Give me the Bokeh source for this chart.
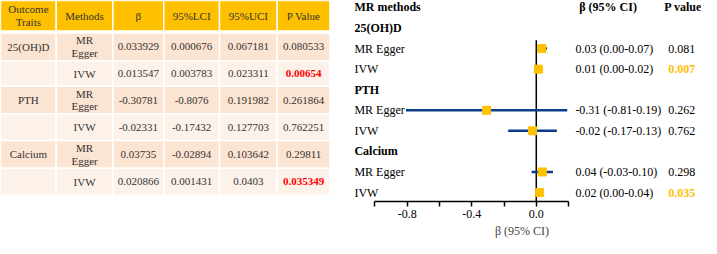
from bokeh.plotting import figure
from bokeh.models import Range1d, FixedTicker, PrintfTickFormatter, Title, ColumnDataSource
from bokeh.layouts import row
from bokeh.embed import file_html
from bokeh.resources import INLINE
from bokeh.core.properties import value

# ---------------- data ----------------
traits = ["25(OH)D", "PTH", "Calcium"]
methods = ["MR Egger", "IVW"]
method_cells = ["MR\nEgger", "IVW"]
beta = [0.033929, 0.013547, -0.30781, -0.02331, 0.03735, 0.020866]
lci = [0.000676, 0.003783, -0.8076, -0.17432, -0.02894, 0.001431]
uci = [0.067181, 0.023311, 0.191982, 0.127703, 0.103642, 0.0403]
pval = [0.080533, 0.00654, 0.261864, 0.762251, 0.29811, 0.035349]
table_headers = ["Outcome\nTraits", "Methods", "β", "95%LCI", "95%UCI", "P Value"]
forest_headers = ["MR methods", "β (95% CI)", "P value"]
forest_ticks = [-0.8, -0.4, 0.0]
forest_minor_ticks = [-1.0, -0.6, -0.2, 0.2]
axis_bounds = (-1.0, 0.2)
axis_title = "β (95% CI)"

# ---------------- layout constants ----------------
FONT = "Liberation Serif"
W, H = 701, 238
REF_W, REF_H = 717, 254
SX = W / REF_W
SY = H / REF_H
TW = 342
FW = W - TW

ORANGE = "#FFC000"
ROW_DARK = "#FCE4D2"
ROW_LIGHT = "#FDF2EA"
TXT = "#333333"
NAVY = "#0B3C8C"

# ---------------- table ----------------
t = figure(width=TW, height=H, x_range=Range1d(0, TW / SX), y_range=Range1d(REF_H, 0),
           output_backend="svg", toolbar_location=None, min_border=0,
           x_axis_location=None, y_axis_location=None)
t.outline_line_color = None
t.xgrid.visible = False
t.ygrid.visible = False
t.background_fill_color = "white"
t.border_fill_color = "white"

col_edges = [0, 57, 115, 167, 224, 283, 337]
head_edges = (0, 38.5)
row_edges = [41, 76, 108.5, 143, 177, 212, 246]
ncol = len(col_edges) - 1
col_centers = [(col_edges[i] + col_edges[i + 1]) / 2 for i in range(ncol)]

t.quad(left=col_edges[:-1], right=col_edges[1:], top=[head_edges[0]] * ncol,
       bottom=[head_edges[1]] * ncol, fill_color=ORANGE, line_color="white", line_width=1.5)
t.text(x=col_centers, y=[sum(head_edges) / 2] * ncol, text=table_headers,
       text_font=value(FONT), text_font_size="11px", text_color=TXT,
       text_align="center", text_baseline="middle", text_line_height=1.05)

nrow = len(beta)
L, R, T, B, C = [], [], [], [], []
tx, ty, tt, tc, ts = [], [], [], [], []
for r in range(nrow):
    gi, mi = divmod(r, len(methods))
    fill = ROW_DARK if mi == 0 else ROW_LIGHT
    yc = (row_edges[r] + row_edges[r + 1]) / 2
    cells = [traits[gi] if mi == 0 else "", method_cells[mi],
             str(beta[r]), str(lci[r]), str(uci[r]), str(pval[r])]
    for c in range(ncol):
        L.append(col_edges[c]); R.append(col_edges[c + 1])
        T.append(row_edges[r]); B.append(row_edges[r + 1]); C.append(fill)
        tx.append(col_centers[c]); ty.append(yc); tt.append(cells[c])
        sig = (c == ncol - 1 and pval[r] < 0.05)
        tc.append("#FF0000" if sig else TXT)
        ts.append("bold" if sig else "normal")

t.quad(left=L, right=R, top=T, bottom=B, fill_color=C, line_color="white", line_width=1.5)
t.text(x=tx, y=ty, text=tt, text_color=tc, text_font_style=ts,
       text_font=value(FONT), text_font_size="11px",
       text_align="center", text_baseline="middle", text_line_height=1.05)

# ---------------- forest ----------------
ZERO_REF, PX_PER_UNIT = 548, 165
AXIS_REF_Y = 217


def ref2x(r):
    return (r - ZERO_REF) / PX_PER_UNIT


x_start_ref = TW / SX
frame_h = round(AXIS_REF_Y * SY)
f = figure(width=FW, height=H, x_range=Range1d(ref2x(x_start_ref), ref2x(REF_W)),
           y_range=Range1d(AXIS_REF_Y, 0), output_backend="svg", toolbar_location=None,
           min_border=0, min_border_bottom=H - frame_h, y_axis_location=None)
f.outline_line_color = None
f.xgrid.visible = False
f.ygrid.visible = False

ROW0, STEP = 7.5, 22.2
labels, lab_bold, lab_y = [forest_headers[0]], ["bold"], [ROW0]
est_y = []
i = 1
for gi, g in enumerate(traits):
    labels.append(g); lab_bold.append("bold"); lab_y.append(ROW0 + STEP * i); i += 1
    for mi, m in enumerate(methods):
        labels.append(m); lab_bold.append("normal"); lab_y.append(ROW0 + STEP * i)
        est_y.append(ROW0 + STEP * i); i += 1

f.text(x=[ref2x(362)] * len(labels), y=lab_y, text=labels, text_font_style=lab_bold,
       text_font=value(FONT), text_font_size="12px", text_color="black",
       text_align="left", text_baseline="middle")

# reference line at zero
f.segment(x0=[0.0], x1=[0.0], y0=[43], y1=[AXIS_REF_Y], line_color="black", line_width=1.5)

src = ColumnDataSource(dict(beta=beta, lci=lci, uci=uci, y=est_y))
f.segment(x0="lci", x1="uci", y0="y", y1="y", source=src, line_color=NAVY, line_width=2.5)
f.scatter(x="beta", y="y", source=src, marker="square", size=8,
          fill_color=ORANGE, line_color=ORANGE)

ci_txt = [f"{b:.2f} ({l:.2f}-{u:.2f})" for b, l, u in zip(beta, lci, uci)]
p_txt = [f"{p:.3f}" for p in pval]
p_col = [ORANGE if p < 0.05 else "black" for p in pval]
p_sty = ["bold" if p < 0.05 else "normal" for p in pval]

f.text(x=[ref2x(592), ref2x(679)], y=[ROW0, ROW0], text=forest_headers[1:],
       text_font_style="bold", text_font=value(FONT), text_font_size="12px",
       text_color="black", text_align="left", text_baseline="middle")
f.text(x=[ref2x(588)] * len(ci_txt), y=est_y, text=ci_txt,
       text_font=value(FONT), text_font_size="12px", text_color="black",
       text_align="left", text_baseline="middle")
f.text(x=[ref2x(683)] * len(p_txt), y=est_y, text=p_txt, text_color=p_col,
       text_font_style=p_sty, text_font=value(FONT), text_font_size="12px",
       text_align="left", text_baseline="middle")

ax = f.xaxis[0]
ax.bounds = axis_bounds
ax.ticker = FixedTicker(ticks=forest_ticks, minor_ticks=forest_minor_ticks)
ax.formatter = PrintfTickFormatter(format="%.1f")
ax.axis_line_color = "black"
ax.axis_line_width = 1.5
ax.major_tick_line_color = "black"
ax.minor_tick_line_color = "black"
ax.major_tick_line_width = 1.5
ax.minor_tick_line_width = 1.5
ax.major_tick_out = 5
ax.minor_tick_out = 5
ax.major_tick_in = 0
ax.minor_tick_in = 0
ax.major_label_text_font = FONT
ax.major_label_text_font_size = "12px"
ax.major_label_text_color = "black"
ax.major_label_standoff = 3

f.add_layout(Title(text=axis_title, align="center", offset=-9, text_font=FONT,
                   text_font_size="12px", text_font_style="normal", standoff=2), "below")

layout = row(t, f)
open("out.html", "w").write(file_html(layout, INLINE))
